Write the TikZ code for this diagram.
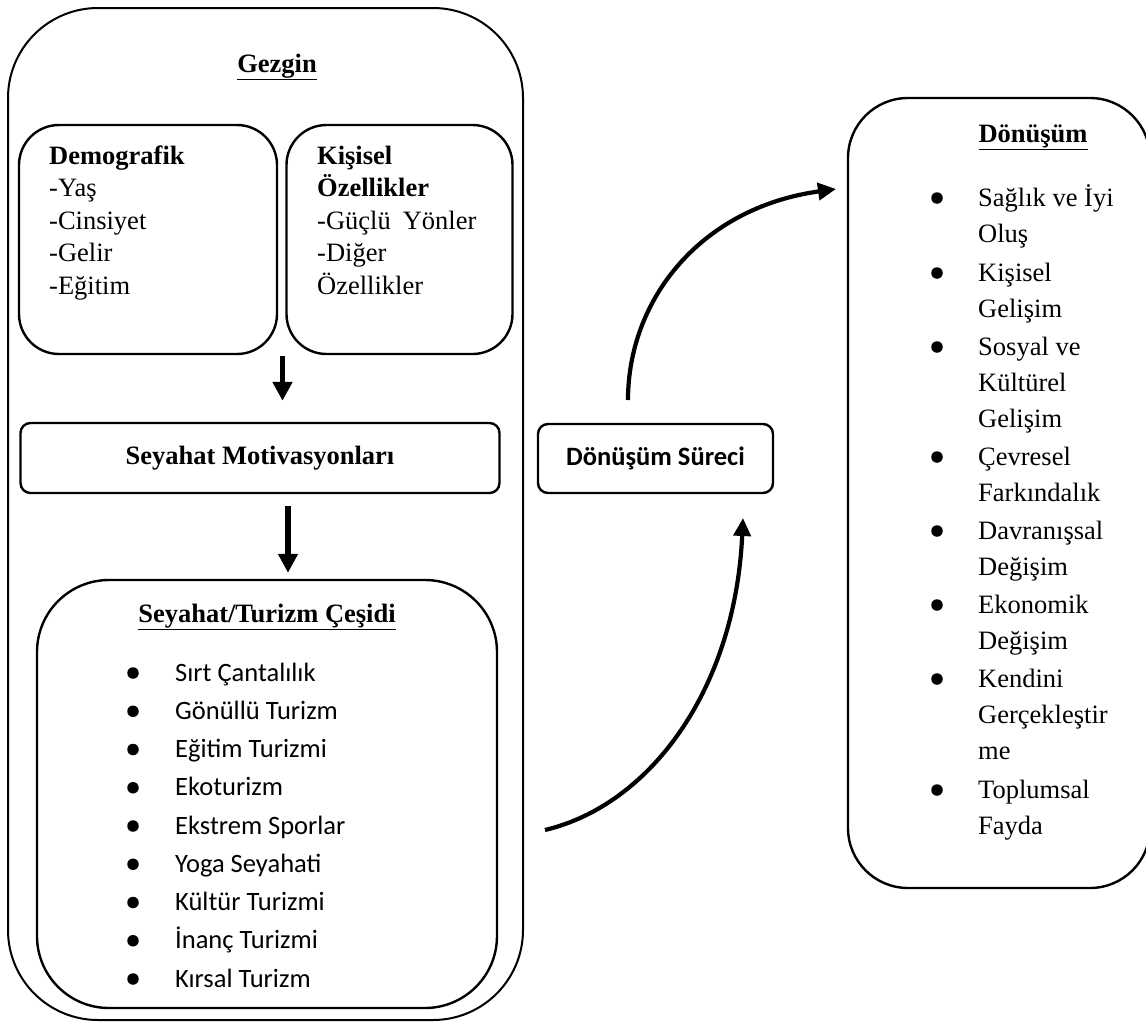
\documentclass[tikz,border=0pt]{standalone}
\usepackage{fontspec}
\setmainfont{Liberation Serif}
\newfontfamily\calfont{Carlito}
\usetikzlibrary{arrows.meta,calc}
\begin{document}
\begin{tikzpicture}[x=1pt,y=-1pt,
  box/.style={draw, line width=2.4pt, inner sep=0pt},
  ser/.style={font=\fontsize{26.5}{32}\selectfont, inner sep=0pt},
  cal/.style={font=\calfont\fontsize{26.5}{32}\selectfont, inner sep=0pt},
  bul/.style={circle, fill=black, inner sep=0pt, minimum size=11.5pt},
  bigarrow/.style={line width=5.5pt, -{Triangle[length=19pt,width=19pt]}},
  curvearrow/.style={line width=4.2pt, -{Triangle[length=18pt,width=17pt]}}]
\path[use as bounding box, fill=white] (0,0) rectangle (1146,1028);

% outer Gezgin box
\node[box, line width=2pt, rounded corners=90pt, minimum width=515pt, minimum height=1012pt] (gez) at (265.5,514) {};
\node[ser, anchor=base, font=\fontsize{26.5}{32}\selectfont\bfseries] (gezt) at (277,72) {\underline{Gezgin}};

% Demografik / Kisisel boxes
\node[box, rounded corners=40pt, minimum width=258pt, minimum height=229pt] (demo) at (148,239.5) {};
\node[box, rounded corners=40pt, minimum width=226pt, minimum height=229pt] (kis) at (399.5,239.5) {};

\node[ser, anchor=base west] (d1) at (49,164) {\textbf{Demografik}};
\foreach \t [count=\i] in {-Yaş,-Cinsiyet,-Gelir,-Eğitim}
  \node[ser, anchor=base west] (d\i x) at (49,164+32.6*\i) {\t};

\node[ser, anchor=base west] (k1) at (317,164) {\textbf{Kişisel}};
\node[ser, anchor=base west] (k2) at (317,196.6) {\textbf{Özellikler}};
\node[ser, anchor=base west] (k3) at (317,229.2) {-Güçlü\hspace{12pt}Yönler};
\node[ser, anchor=base west] (k4) at (317,261.8) {-Diğer};
\node[ser, anchor=base west] (k5) at (317,294.4) {Özellikler};

% Motivasyon box
\node[box, rounded corners=10pt, minimum width=479pt, minimum height=70pt, ser, font=\fontsize{26.5}{32}\selectfont\bfseries] (motiv) at (260,458) {Seyahat Motivasyonları};

% Turizm box
\node[box, rounded corners=72pt, minimum width=460pt, minimum height=428pt] (tur) at (267,794) {};
\node[ser, anchor=base, font=\fontsize{26.5}{32}\selectfont\bfseries] (turt) at (267,622) {\underline{Seyahat/Turizm Çeşidi}};
\foreach \t [count=\i] in {Sırt Çantalılık,Gönüllü Turizm,Eğitim Turizmi,Ekoturizm,Ekstrem Sporlar,Yoga Seyahati,Kültür Turizmi,İnanç Turizmi,Kırsal Turizm}{
  \node[cal, anchor=base west] (t\i) at (175,681+38.25*\i-38.25) {\t};
  \node[bul] (tb\i) at (133,673+38.25*\i-38.25) {};
}

% arrows inside Gezgin
\coordinate (a1) at (282.5,356);
\draw[bigarrow, shorten >=21pt] (a1) -- (a1 |- motiv.north);
\coordinate (a2) at (288,0);
\draw[bigarrow, shorten <=12pt, shorten >=6pt] (motiv.south -| a2) -- (tur.north -| a2);

% Donusum Sureci
\node[box, rounded corners=10pt, minimum width=235pt, minimum height=69pt, cal, font=\calfont\fontsize{26.5}{32}\selectfont\bfseries] (dsurec) at (655.5,458.5) {Dönüşüm Süreci};

% Donusum box
\node[box, rounded corners=60pt, minimum width=302pt, minimum height=790pt] (don) at (999,493) {};
\node[ser, anchor=base, font=\fontsize{26.5}{32}\selectfont\bfseries] (dont) at (1033,142) {\underline{Dönüşüm}};

\foreach \t/\y [count=\i] in {Sağlık ve İyi/206,Oluş/242,Kişisel/281,Gelişim/317,Sosyal ve/355,Kültürel/391,Gelişim/427,Çevresel/465,Farkındalık/501,Davranışsal/539,Değişim/575,Ekonomik/613,Değişim/649,Kendini/687,Gerçekleştir/723,me/759,Toplumsal/798,Fayda/834}
  \node[ser, anchor=base west] (r\i) at (978,\y) {\t};
\foreach \y [count=\i] in {198,273,347,457,531,605,679,790}
  \node[bul] (rb\i) at (937,\y) {};

% curved arrows
\coordinate (c1s) at (628,400);
\coordinate (c1e) at (836,189);
\draw[curvearrow] (c1s) .. controls (628,300) and (700,208) .. (c1e);
\coordinate (c2s) at (545,830);
\coordinate (c2e) at (743,518);
\draw[curvearrow] (c2s) .. controls (650,805) and (735,690) .. (c2e);
\end{tikzpicture}
\end{document}
